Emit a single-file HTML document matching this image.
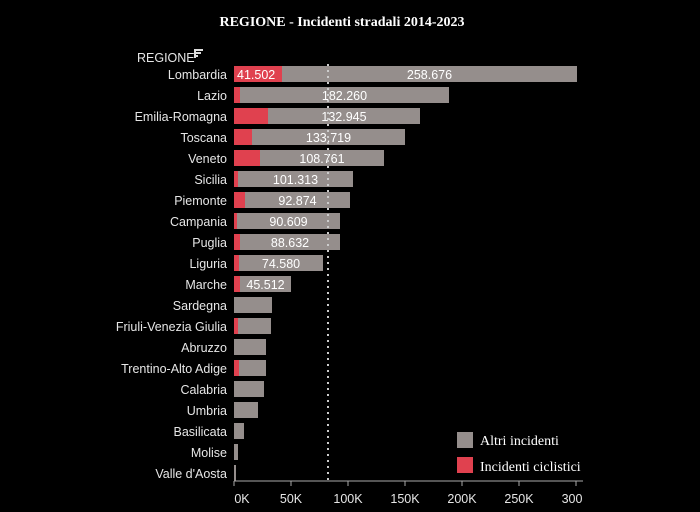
<!DOCTYPE html>
<html><head><meta charset="utf-8"><style>
html,body{margin:0;padding:0;background:#000;}
svg{display:block}
.l{font-family:"Liberation Sans",sans-serif;font-size:12.5px;fill:#e6e6e6;text-anchor:end}
.v{font-family:"Liberation Sans",sans-serif;font-size:12.5px;fill:#fff;text-anchor:middle}
.t{font-family:"Liberation Sans",sans-serif;font-size:12.5px;fill:#e6e6e6;text-anchor:middle}
.s{font-family:"Liberation Serif",serif;font-size:14px;fill:#fff}
</style></head><body>
<svg width="700" height="512" xmlns="http://www.w3.org/2000/svg">
<rect width="700" height="512" fill="#000"/>
<text x="342" y="26" class="s" font-weight="bold" text-anchor="middle" font-size="14.5">REGIONE - Incidenti stradali 2014-2023</text>
<text x="137" y="62" class="l" style="text-anchor:start" font-size="12">REGIONE</text>
<g fill="#ddd"><rect x="194" y="49" width="9" height="2"/><rect x="194" y="52" width="7" height="2"/><rect x="194" y="55" width="4" height="2"/><rect x="194" y="49" width="2" height="9"/></g>
<g id="bars"></g>
<line x1="328" y1="64" x2="328" y2="481" stroke="#ccc" stroke-width="2" stroke-dasharray="2,4"/>
<line x1="234" y1="481" x2="583" y2="481" stroke="#aaa" stroke-width="1"/>
<g stroke="#aaa"><line x1="234" y1="481" x2="234" y2="486"/><line x1="291" y1="481" x2="291" y2="486"/><line x1="348" y1="481" x2="348" y2="486"/><line x1="405" y1="481" x2="405" y2="486"/><line x1="462" y1="481" x2="462" y2="486"/><line x1="519" y1="481" x2="519" y2="486"/><line x1="576" y1="481" x2="576" y2="486"/></g>
<text x="242" y="503" class="t">0K</text><text x="291" y="503" class="t">50K</text><text x="348" y="503" class="t">100K</text><text x="405" y="503" class="t">150K</text><text x="462" y="503" class="t">200K</text><text x="519" y="503" class="t">250K</text><text x="572" y="503" class="t">300</text>
<rect x="457" y="432" width="16" height="16" fill="#958e8c"/>
<text x="480" y="445" class="s">Altri incidenti</text>
<rect x="457" y="457" width="16" height="16" fill="#e0414f"/>
<text x="480" y="471" class="s">Incidenti ciclistici</text>
</svg>
<script>
var d=[["Lombardia",577,282,"258.676","41.502"],["Lazio",449,240,"182.260"],["Emilia-Romagna",420,268,"132.945"],["Toscana",405,252,"133.719"],["Veneto",384,260,"108.761"],["Sicilia",353,238,"101.313"],["Piemonte",350,245,"92.874"],["Campania",340,237,"90.609"],["Puglia",340,240,"88.632"],["Liguria",323,239,"74.580"],["Marche",291,240,"45.512"],["Sardegna",272,234],["Friuli-Venezia Giulia",271,238],["Abruzzo",266,234],["Trentino-Alto Adige",266,239],["Calabria",264,234],["Umbria",258,234],["Basilicata",244,234],["Molise",238,234],["Valle d'Aosta",236,234]];
var g=document.getElementById("bars"),s="";
d.forEach(function(r,i){var cy=74+i*21;
s+='<rect x="234" y="'+(cy-8)+'" width="'+(r[1]-234)+'" height="16" fill="#958e8c"/>';
if(r[2]>234)s+='<rect x="234" y="'+(cy-8)+'" width="'+(r[2]-234)+'" height="16" fill="#e0414f"/>';
s+='<text x="227" y="'+(cy+5)+'" class="l">'+r[0].replace("'","&#39;")+'</text>';
if(r[3])s+='<text x="'+((r[2]+r[1])/2)+'" y="'+(cy+5)+'" class="v">'+r[3]+'</text>';
if(r[4])s+='<text x="237" y="'+(cy+5)+'" class="v" style="text-anchor:start">'+r[4]+'</text>';
});
g.innerHTML=s;
</script>
</body></html>
